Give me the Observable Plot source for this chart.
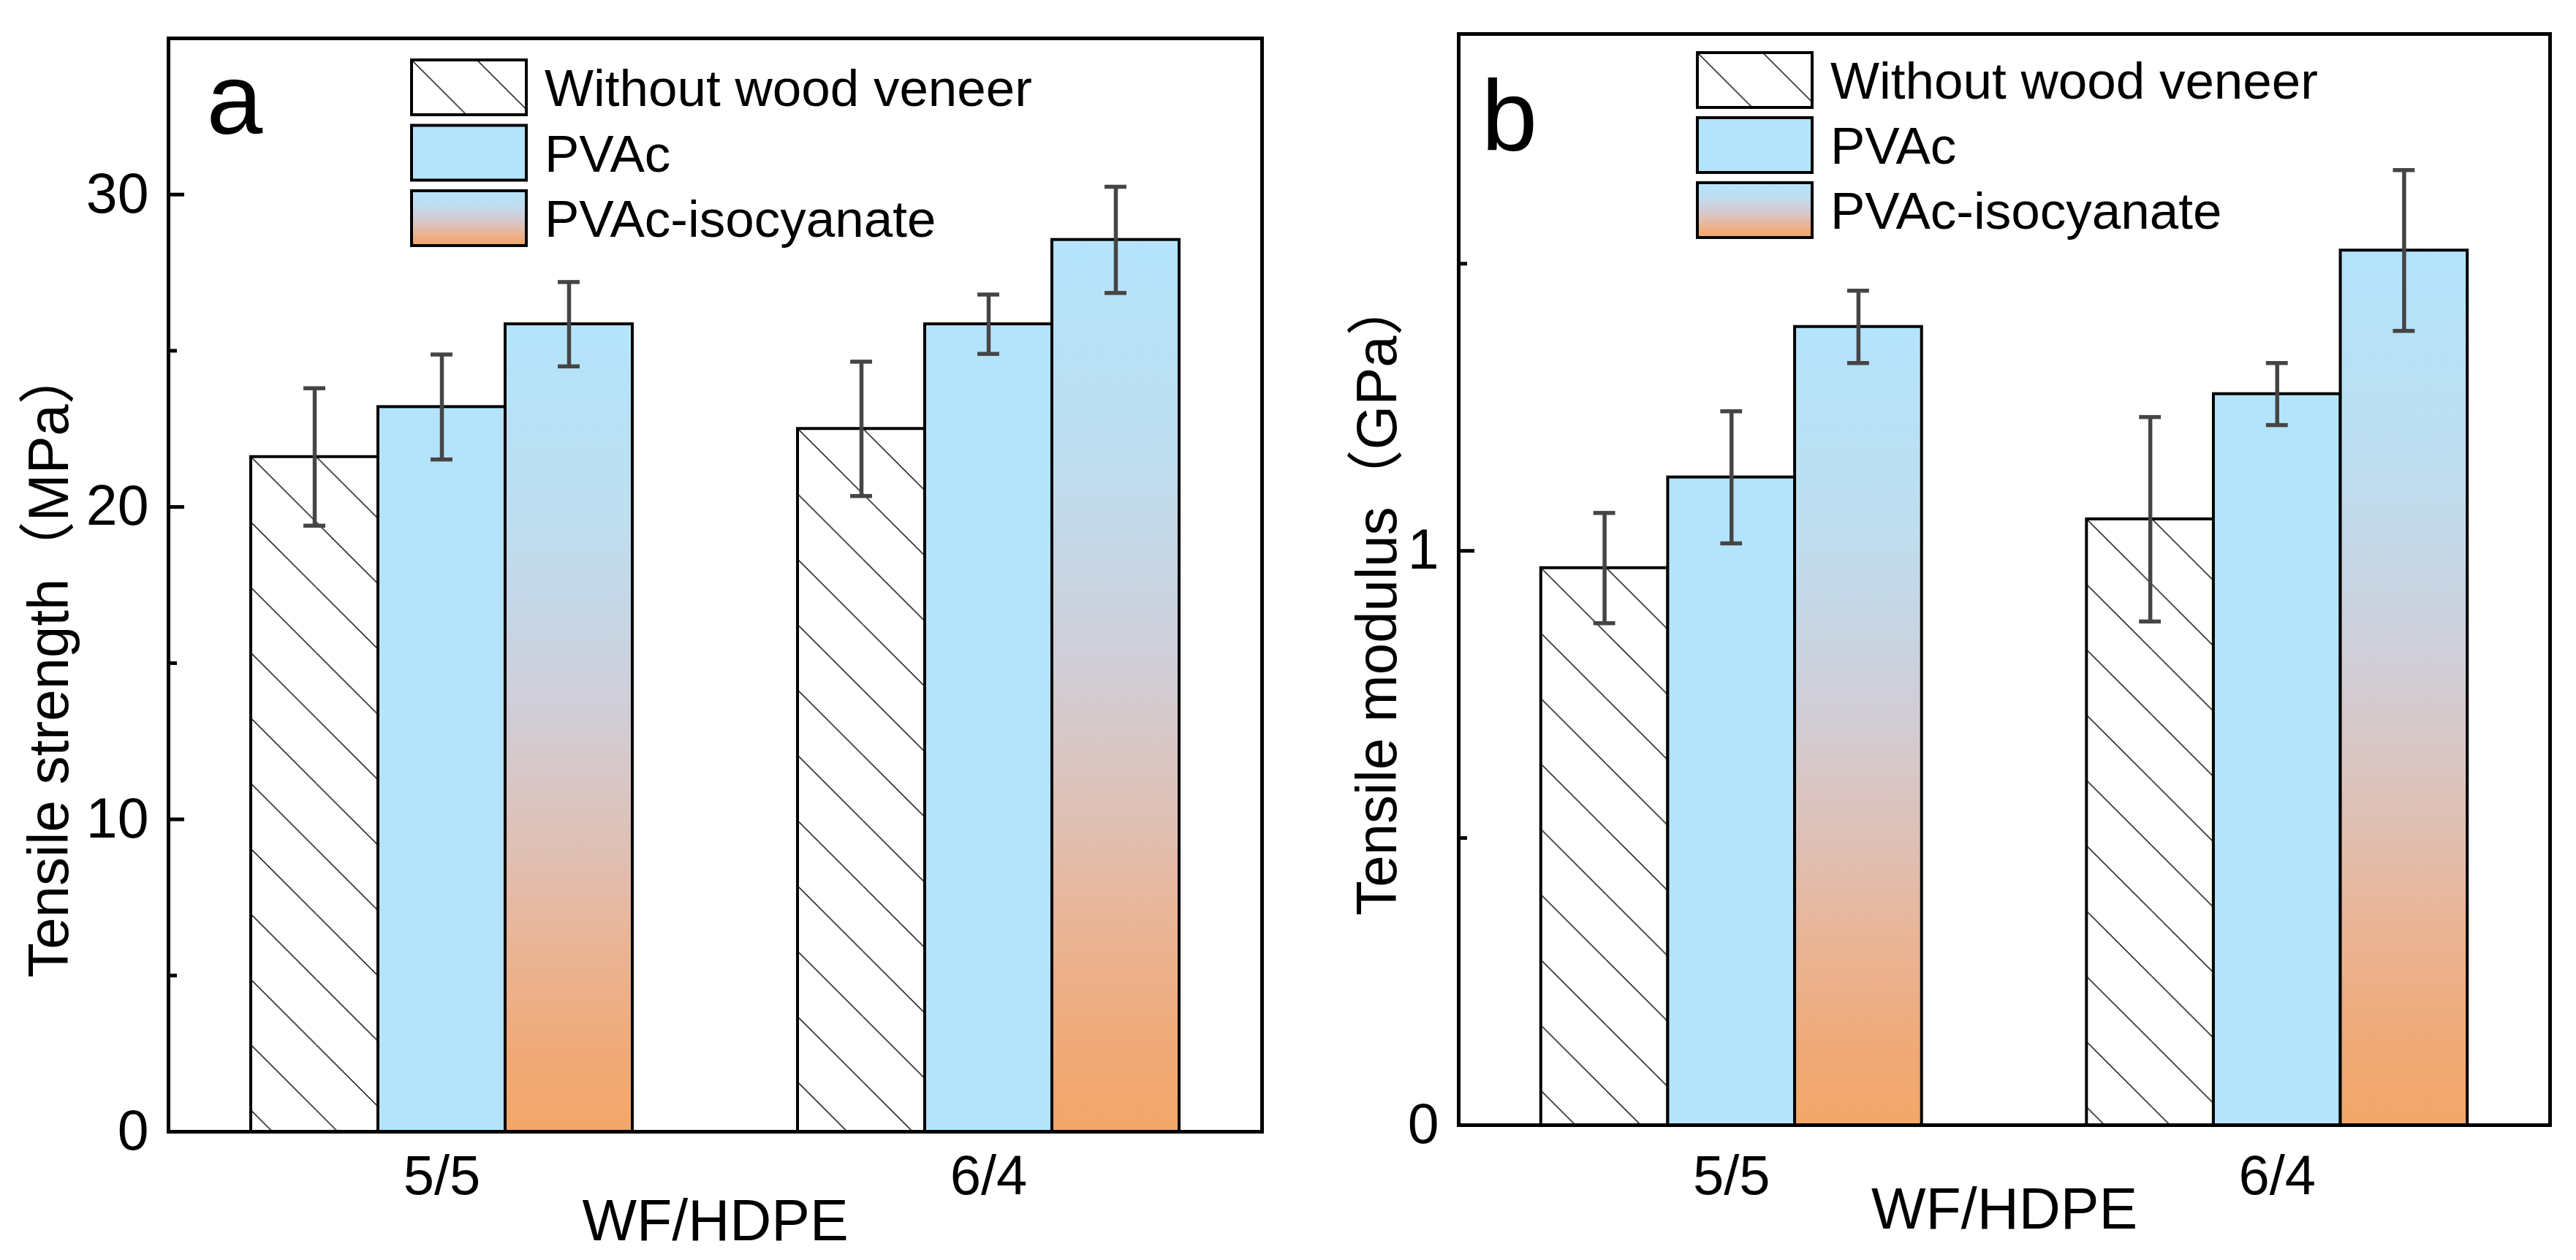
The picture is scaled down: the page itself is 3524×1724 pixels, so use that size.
<!DOCTYPE html>
<html>
<head>
<meta charset="utf-8">
<script src="https://cdn.jsdelivr.net/npm/d3@7"></script>
<script src="https://cdn.jsdelivr.net/npm/@observablehq/plot@0.6"></script>
<style>
  body { margin: 0; background: #fff; }
  #wrap { display: flex; width: 3524px; height: 1724px; }
  #wrap > div { width: 1762px; height: 1724px; }
</style>
</head>
<body>
<div id="wrap"><div id="chart_a"></div><div id="chart_b"></div></div>
<script>
// data, group-major order: 5/5 (without, PVAc, iso), then 6/4
const groups = ["5/5", "6/4"];
const series = ["Without wood veneer", "PVAc", "PVAc-isocyanate"];
const strength = [21.6, 23.2, 25.85, 22.5, 25.85, 28.55];
const strengthErr = [2.2, 1.68, 1.35, 2.15, 0.95, 1.7];
const modulus = [0.97, 1.128, 1.39, 1.055, 1.273, 1.523];
const modulusErr = [0.096, 0.115, 0.063, 0.178, 0.054, 0.14];

const W = 1762, H = 1724;
const barWidth = 0.2326;   // in group units (groups are 1 apart)
const capHalf = 0.02;
const hatchStep = 89.4;
const pvacBlue = "#b4e4fc";
const errColor = "#454545";
const font = "'Liberation Sans', Arial, 'Noto Sans CJK SC', sans-serif";
const isoStops = [
  [0, "#b4e4fc"], [0.25, "#bedef0"], [0.4, "#c9d3e0"], [0.48, "#d1cdd7"],
  [0.56, "#d8c7c6"], [0.66, "#e0bfb2"], [0.76, "#e9b598"], [0.9, "#f0aa78"], [1, "#f3a769"]
];

function addHatch(defs, id, x0, y0) {
  const s = hatchStep;
  const p = defs.append("pattern").attr("id", id)
    .attr("patternUnits", "userSpaceOnUse")
    .attr("x", x0).attr("y", y0).attr("width", s).attr("height", s);
  p.append("rect").attr("width", s).attr("height", s).attr("fill", "white");
  p.append("path")
    .attr("d", `M${-s},0L0,${s}M-2,-2L${s + 2},${s + 2}M0,${-s}L${s},0`)
    .attr("stroke", "black").attr("stroke-width", 1.4);
}

function panel(o) {
  const rows = [];
  groups.forEach((g, gi) => series.forEach((s, si) => {
    const k = gi * series.length + si;
    const xc = gi + (si - 1) * barWidth;
    rows.push({group: g, series: s, gi, si, value: o.values[k], err: o.errors[k],
      xc, x1: xc - barWidth / 2, x2: xc + barWidth / 2});
  }));
  const fillFor = d => d.si === 0 ? `url(#${o.id}-hatch-${d.gi})` : d.si === 1 ? pvacBlue : `url(#${o.id}-iso)`;

  const chart = Plot.plot({
    width: W, height: H,
    marginLeft: o.m.left, marginRight: o.m.right, marginTop: o.m.top, marginBottom: o.m.bottom,
    style: {fontFamily: font, background: "white", color: "black", overflow: "visible"},
    x: {domain: [-0.5, 1.5], label: null},
    y: {domain: o.yDomain, label: null},
    color: {type: "identity"},
    marks: [
      Plot.rect(rows, {x1: "x1", x2: "x2", y1: 0, y2: "value", fill: fillFor, stroke: "black", strokeWidth: 4}),
      Plot.ruleX(rows, {x: "xc", y1: d => d.value - d.err, y2: d => d.value + d.err, stroke: errColor, strokeWidth: 5.5}),
      Plot.ruleY(rows, {y: d => d.value + d.err, x1: d => d.xc - capHalf, x2: d => d.xc + capHalf, stroke: errColor, strokeWidth: 5.5}),
      Plot.ruleY(rows, {y: d => d.value - d.err, x1: d => d.xc - capHalf, x2: d => d.xc + capHalf, stroke: errColor, strokeWidth: 5.5}),
      Plot.axisY(o.major, {tickSize: 22, dx: 22, strokeWidth: 5, tickFormat: () => ""}),
      Plot.axisY(o.minor, {tickSize: 12, dx: 12, strokeWidth: 5, tickFormat: () => ""}),
      Plot.axisY(o.major, {tickSize: 0, tickPadding: 27, fontSize: 77, tickFormat: d => String(d)}),
      Plot.axisX([0, 1], {tickSize: 0, tickPadding: o.xPad, fontSize: 76, tickFormat: i => groups[i]}),
      Plot.text(["WF/HDPE"], {text: d => d, frameAnchor: "bottom", dy: o.xLabelDy, lineAnchor: "top", fontSize: 79}),
      Plot.text([o.ylabel], {text: d => d, frameAnchor: "left", textAnchor: "middle", rotate: -90, dx: o.titleDx, dy: o.titleDy, fontSize: 78}),
      Plot.text([o.letter], {text: d => d, frameAnchor: "top-left", dx: o.letterDx, dy: o.letterDy, fontSize: 138, textAnchor: "start", lineAnchor: "bottom"}),
      Plot.frame({stroke: "black", strokeWidth: 5})
    ]
  });

  // patterns and gradient
  const px = d3.scaleLinear([-0.5, 1.5], [o.m.left, W - o.m.right]);
  const py = d3.scaleLinear(o.yDomain, [H - o.m.bottom, o.m.top]);
  const svg = d3.select(chart);
  const defs = svg.insert("defs", ":first-child");
  rows.filter(d => d.si === 0).forEach(d => addHatch(defs, `${o.id}-hatch-${d.gi}`, px(d.x1), py(d.value)));
  addHatch(defs, `${o.id}-hatch-leg`, o.legend.x, o.legend.top);
  const grad = defs.append("linearGradient").attr("id", `${o.id}-iso`)
    .attr("x1", 0).attr("y1", 0).attr("x2", 0).attr("y2", 1);
  isoStops.forEach(([t, c]) => grad.append("stop").attr("offset", t).attr("stop-color", c));

  // legend
  const leg = svg.append("g").attr("font-family", font).attr("font-size", 71).attr("text-anchor", "start");
  const legFill = [`url(#${o.id}-hatch-leg)`, pvacBlue, `url(#${o.id}-iso)`];
  series.forEach((s, i) => {
    const y0 = o.legend.top + i * o.legend.step;
    leg.append("rect").attr("x", o.legend.x).attr("y", y0).attr("width", 157).attr("height", 75)
      .attr("fill", legFill[i]).attr("stroke", "black").attr("stroke-width", 4);
    leg.append("text").attr("x", o.legend.x + 182).attr("y", y0 + 63).attr("fill", "black").text(s);
  });

  d3.select(o.el).append(() => chart);
}

panel({
  el: "#chart_a", id: "pa", values: strength, errors: strengthErr,
  yDomain: [0, 35], major: [0, 10, 20, 30], minor: [5, 15, 25],
  ylabel: "Tensile strength（MPa）", letter: "a",
  m: {left: 230, right: 36, top: 52, bottom: 176},
  titleDx: -162, titleDy: 106, letterDx: 52, letterDy: 130,
  xPad: 32, xLabelDy: 92,
  legend: {x: 563, top: 82, step: 89.5}
});

panel({
  el: "#chart_b", id: "pb", values: modulus, errors: modulusErr,
  yDomain: [0, 1.9], major: [0, 1], minor: [0.5, 1.5],
  ylabel: "Tensile modulus（GPa）", letter: "b",
  m: {left: 233, right: 36, top: 46, bottom: 185},
  titleDx: -110, titleDy: 24, letterDx: 31, letterDy: 159,
  xPad: 41, xLabelDy: 85,
  legend: {x: 560, top: 72, step: 89}
});
</script>
</body>
</html>
